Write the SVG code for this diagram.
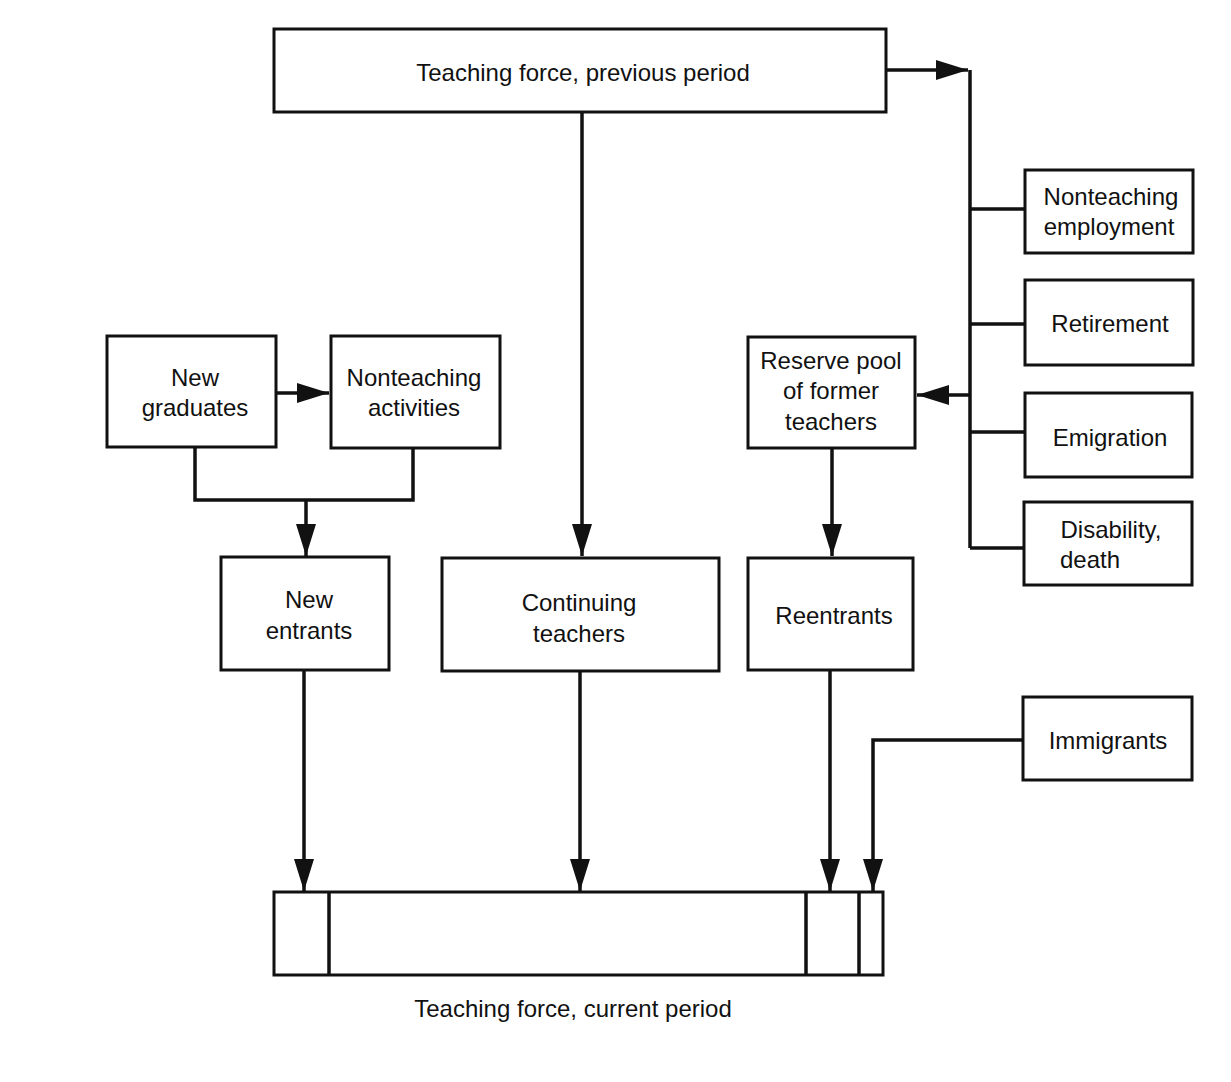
<svg xmlns="http://www.w3.org/2000/svg" width="1231" height="1082" viewBox="0 0 1231 1082">
<style>
.box{fill:#fff;stroke:#111;stroke-width:3}
.t{font-family:"Liberation Sans",Arial,sans-serif;font-size:24px;fill:#111;text-anchor:middle}
.c{fill:none;stroke:#111;stroke-width:3.5}
</style>
<defs>
<marker id="ah" markerUnits="userSpaceOnUse" markerWidth="34" markerHeight="24" refX="32" refY="11" orient="auto">
<path d="M0,1 L32,11 L0,21 Z" fill="#111"/>
</marker>
</defs>
<rect width="1231" height="1082" fill="#fff"/>
<g id="connectors">
<path class="c" d="M886,70 H968" marker-end="url(#ah)"/>
<path class="c" d="M970,70 V548"/>
<path class="c" d="M970,209 H1025 M970,324 H1025 M970,432 H1025 M970,548 H1025"/>
<path class="c" d="M970,395 H917" marker-end="url(#ah)"/>
<path class="c" d="M582,112 V556" marker-end="url(#ah)"/>
<path class="c" d="M276,393 H329" marker-end="url(#ah)"/>
<path class="c" d="M195,447 V500 H413 V448"/>
<path class="c" d="M306,500 V556" marker-end="url(#ah)"/>
<path class="c" d="M832,448 V556" marker-end="url(#ah)"/>
<path class="c" d="M304,670 V891" marker-end="url(#ah)"/>
<path class="c" d="M580,671 V891" marker-end="url(#ah)"/>
<path class="c" d="M830,670 V891" marker-end="url(#ah)"/>
<path class="c" d="M1023,740 H873 V891" marker-end="url(#ah)"/>
</g>
<g id="prev"><rect class="box" x="274" y="29" width="612" height="83"/><text class="t" x="583" y="81">Teaching force, previous period</text></g>
<g id="nonteach-emp"><rect class="box" x="1025" y="170" width="168" height="83"/><text class="t" x="1111" y="205">Nonteaching</text><text class="t" x="1109" y="235">employment</text></g>
<g id="retirement"><rect class="box" x="1025" y="280" width="168" height="85"/><text class="t" x="1110" y="332">Retirement</text></g>
<g id="emigration"><rect class="box" x="1025" y="393" width="167" height="84"/><text class="t" x="1110" y="446">Emigration</text></g>
<g id="disability"><rect class="box" x="1024" y="502" width="168" height="83"/><text class="t" x="1111" y="538">Disability,</text><text class="t" x="1090" y="568">death</text></g>
<g id="new-grad"><rect class="box" x="107" y="336" width="169" height="111"/><text class="t" x="195" y="386">New</text><text class="t" x="195" y="416">graduates</text></g>
<g id="nonteach-act"><rect class="box" x="331" y="336" width="169" height="112"/><text class="t" x="414" y="386">Nonteaching</text><text class="t" x="414" y="416">activities</text></g>
<g id="reserve"><rect class="box" x="748" y="337" width="167" height="111"/><text class="t" x="831" y="369">Reserve pool</text><text class="t" x="831" y="399">of former</text><text class="t" x="831" y="430">teachers</text></g>
<g id="new-entrants"><rect class="box" x="221" y="557" width="168" height="113"/><text class="t" x="309" y="608">New</text><text class="t" x="309" y="639">entrants</text></g>
<g id="continuing"><rect class="box" x="442" y="558" width="277" height="113"/><text class="t" x="579" y="611">Continuing</text><text class="t" x="579" y="642">teachers</text></g>
<g id="reentrants"><rect class="box" x="748" y="558" width="165" height="112"/><text class="t" x="834" y="624">Reentrants</text></g>
<g id="immigrants"><rect class="box" x="1023" y="697" width="169" height="83"/><text class="t" x="1108" y="749">Immigrants</text></g>
<g id="current">
<rect class="box" x="274" y="892" width="609" height="83"/>
<path class="c" d="M329,892 V975 M806,892 V975 M859,892 V975"/>
<text class="t" x="573" y="1017">Teaching force, current period</text>
</g>
</svg>
